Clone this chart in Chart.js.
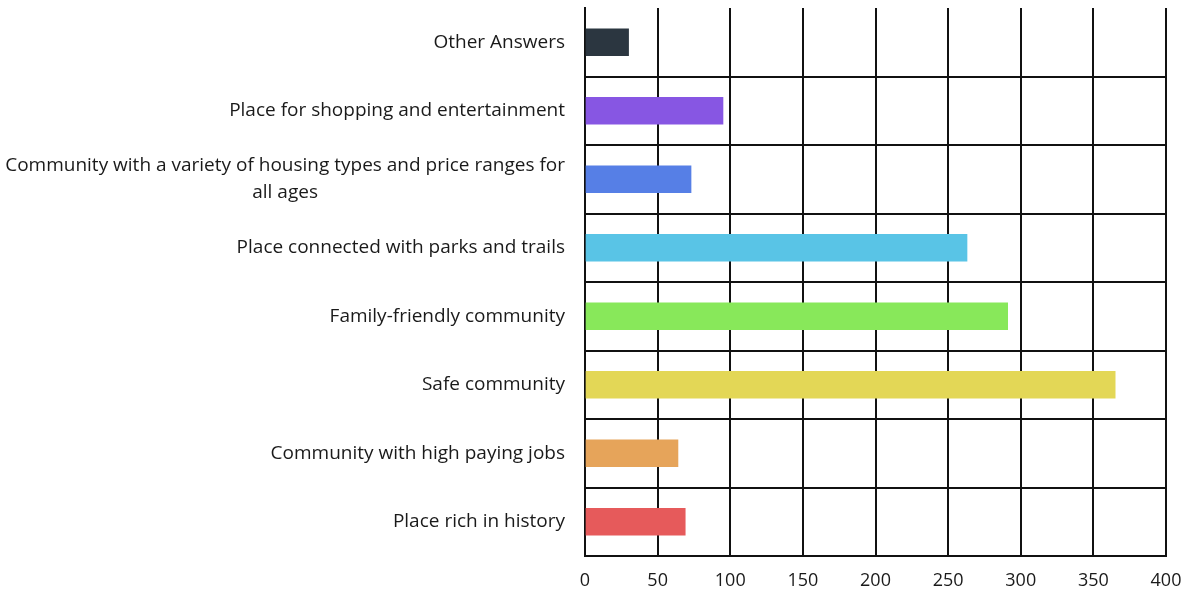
<!DOCTYPE html>
<html>
<head>
<meta charset="utf-8">
<script src="https://cdn.jsdelivr.net/npm/chart.js@4.4.1/dist/chart.umd.min.js"></script>
<style>
  html, body { margin: 0; padding: 0; background: #ffffff; }
  #wrap { width: 1190px; height: 595px; position: relative; }
</style>
</head>
<body>
<div id="wrap"><canvas id="chart1"></canvas></div>
<script>
// categories (top to bottom) and survey counts
var categorias = [
    ["Other Answers"],
    ["Place for shopping and entertainment"],
    ["Community with a variety of housing types and price ranges for", "all ages"],
    ["Place connected with parks and trails"],
    ["Family-friendly community"],
    ["Safe community"],
    ["Community with high paying jobs"],
    ["Place rich in history"]
];
var respuestas = [30, 95, 73, 263, 291, 365, 64, 69];
var colores = ['#2b3640', '#8756e3', '#567fe6', '#59c4e6', '#88e85a', '#e3d756', '#e6a45a', '#e65a5b'];
var ticksX = [0, 50, 100, 150, 200, 250, 300, 350, 400];

var fuente = '"Open Sans", Roboto, sans-serif';

// draw the category labels: single lines right aligned, wrapped lines centred on each other
var etiquetasY = {
    id: 'etiquetasY',
    afterDraw: function (chart) {
        var ctx = chart.ctx;
        var escala = chart.scales.y;
        var derecha = escala.right - 20;
        ctx.save();
        ctx.font = '19px ' + fuente;
        ctx.fillStyle = '#1a1a1a';
        ctx.textBaseline = 'middle';
        ctx.textAlign = 'center';
        var alto = 27;
        categorias.forEach(function (lineas, i) {
            var yc = escala.getPixelForTick(i);
            var ancho = 0;
            lineas.forEach(function (l) { ancho = Math.max(ancho, ctx.measureText(l).width); });
            var xc = derecha - ancho / 2;
            var y0 = yc - (lineas.length - 1) * alto / 2;
            lineas.forEach(function (l, k) {
                ctx.fillText(l, xc, y0 + k * alto);
            });
        });
        ctx.restore();
    }
};

var canvas = document.getElementById('chart1').getContext('2d');

window.bar = new Chart(canvas, {
    type: 'bar',
    data: {
        labels: categorias,
        datasets: [{
            data: respuestas,
            backgroundColor: colores,
            borderWidth: 0,
            barThickness: 27
        }]
    },
    options: {
        indexAxis: 'y',
        responsive: true,
        maintainAspectRatio: false,
        animation: false,
        layout: {
            padding: { top: 8, right: 0, bottom: 0, left: 0 }
        },
        plugins: {
            legend: { display: false },
            tooltip: { enabled: false }
        },
        scales: {
            x: {
                min: 0,
                max: 400,
                afterBuildTicks: function (scale) {
                    scale.ticks = ticksX.map(function (v) { return { value: v }; });
                },
                grid: {
                    color: '#111111',
                    lineWidth: 2,
                    drawTicks: false
                },
                border: { color: '#111111', width: 2 },
                ticks: {
                    padding: 14,
                    color: '#1a1a1a',
                    font: { family: fuente, size: 18 }
                },
                afterFit: function (scale) {
                    scale.height = 39;
                    scale.paddingRight = 24;
                }
            },
            y: {
                grid: {
                    offset: true,
                    drawTicks: false,
                    lineWidth: 2,
                    color: function (c) { return c.index === 0 ? 'rgba(0,0,0,0)' : '#111111'; }
                },
                border: { color: '#111111', width: 2 },
                ticks: { display: false },
                afterFit: function (scale) { scale.width = 585; }
            }
        }
    },
    plugins: [etiquetasY]
});
</script>
</body>
</html>
